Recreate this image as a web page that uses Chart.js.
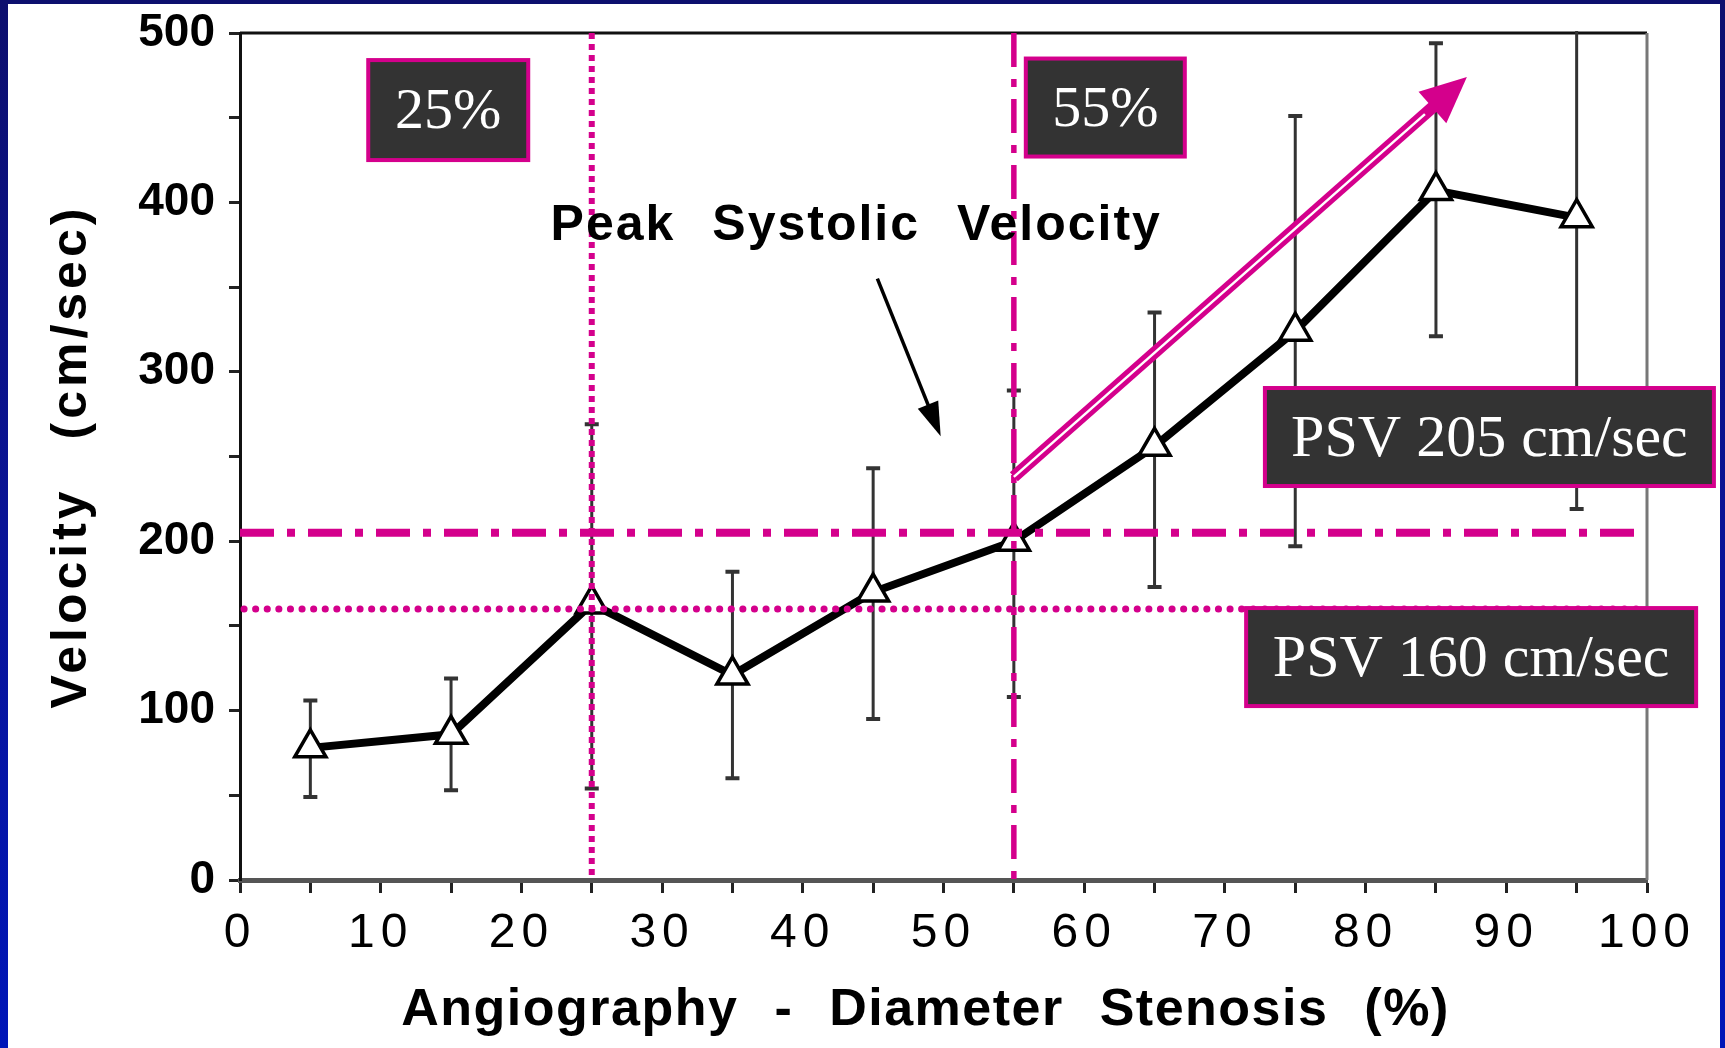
<!DOCTYPE html>
<html>
<head>
<meta charset="utf-8">
<script src="https://cdn.jsdelivr.net/npm/chart.js@4.4.1/dist/chart.umd.min.js"></script>
<style>
  html,body{margin:0;padding:0;width:1725px;height:1048px;overflow:hidden;
    background:linear-gradient(180deg,#0d0f6e 0%,#0a1496 50%,#0016b8 100%);}
  #wrap{position:absolute;left:8px;top:4px;width:1712px;height:1044px;background:#fff;}
  canvas{display:block;}
</style>
</head>
<body>
<div id="wrap"><canvas id="c" width="1712" height="1044" style="width:1712px;height:1044px"></canvas></div>
<script>
// ---- data ----
const stenosis = [5, 15, 25, 35, 45, 55, 65, 75, 85, 95];
const psvMean  = [78, 86, 163, 121, 170, 200, 256, 324, 407, 391];
const psvHigh  = [106, 119, 269, 182, 243, 289, 335, 451, 494, 530];
const psvLow   = [49, 53, 54, 60, 95, 108, 173, 197, 321, 219];
const xTickValues = [0, 10, 20, 30, 40, 50, 60, 70, 80, 90, 100];
const yTickValues = [0, 100, 200, 300, 400, 500];
const stenosisCutoffs = [25, 55];
const psvCutoffs = [205, 160];
const xTitle = 'Angiography - Diameter Stenosis (%)';
const yTitle = 'Velocity (cm/sec)';
const curveLabel = 'Peak Systolic Velocity';
const boxLabels = ['25%', '55%', 'PSV 205 cm/sec', 'PSV 160 cm/sec'];

// ---- annotation placement (in axis units) ----
const MAG = '#d4008c';
const SANS = '"Liberation Sans", Arial, Helvetica, sans-serif';
const SERIF = '"Liberation Serif", "Times New Roman", serif';
const boxPlace = [
  {x: 14.8, y: 454.5, w: 160, h: 100},
  {x: 61.5, y: 456, w: 159, h: 98},
  {x: 88.8, y: 261.5, w: 449, h: 98},
  {x: 87.5, y: 131.6, w: 450, h: 98}
];
const trendArrow = {x0: 55, y0: 238, x1: 87.2, y1: 474};
const pointerArrow = {x0: 45.3, y0: 355, x1: 49.8, y1: 262};
const curveLabelPos = {x: 43.8, y: 386};

function patch(scale, name, props, dx){
  const orig = scale[name].bind(scale);
  scale[name] = function(){
    const ctx = this.ctx; ctx.save();
    for (const k in props) ctx[k] = props[k];
    if (dx) ctx.translate(dx, 0);
    const r = orig.apply(null, arguments);
    ctx.restore(); return r;
  };
}

function arrowHead(ctx, x0, y0, x1, y1, len, half, color){
  const a = Math.atan2(y1 - y0, x1 - x0);
  ctx.beginPath();
  ctx.moveTo(x1, y1);
  ctx.lineTo(x1 - len*Math.cos(a) + half*Math.sin(a), y1 - len*Math.sin(a) - half*Math.cos(a));
  ctx.lineTo(x1 - len*Math.cos(a) - half*Math.sin(a), y1 - len*Math.sin(a) + half*Math.cos(a));
  ctx.closePath();
  ctx.fillStyle = color; ctx.fill();
}

const decor = {
  id: 'decor',
  beforeDraw(chart){
    if (!chart.$patched){
      chart.$patched = true;
      patch(chart.scales.x, 'drawLabels', {letterSpacing: '6px'});
      patch(chart.scales.x, 'drawTitle', {letterSpacing: '1.5px', wordSpacing: '20px'}, -18);
      patch(chart.scales.y, 'drawTitle', {letterSpacing: '4px', wordSpacing: '30px'});
    }
  },
  beforeDatasetsDraw(chart){
    const {ctx, chartArea: a, scales: {x, y}} = chart;
    // frame (top and right)
    ctx.save();
    ctx.strokeStyle = '#111'; ctx.lineWidth = 3;
    ctx.beginPath(); ctx.moveTo(a.left, a.top); ctx.lineTo(a.right, a.top); ctx.stroke();
    ctx.strokeStyle = '#777'; ctx.lineWidth = 3;
    ctx.beginPath(); ctx.moveTo(a.right, a.top); ctx.lineTo(a.right, a.bottom); ctx.stroke();
    // error bars
    ctx.beginPath(); ctx.rect(a.left, a.top - 2, a.right - a.left, a.bottom - a.top + 2); ctx.clip();
    ctx.strokeStyle = '#333'; ctx.lineWidth = 3;
    stenosis.forEach((sx, i) => {
      const px = x.getPixelForValue(sx);
      const yh = y.getPixelForValue(psvHigh[i]);
      const yl = y.getPixelForValue(psvLow[i]);
      ctx.beginPath();
      ctx.moveTo(px, yh); ctx.lineTo(px, yl);
      ctx.stroke();
      ctx.lineWidth = 4;
      ctx.beginPath();
      ctx.moveTo(px - 7, yh); ctx.lineTo(px + 7, yh);
      ctx.moveTo(px - 7, yl); ctx.lineTo(px + 7, yl);
      ctx.stroke();
      ctx.lineWidth = 3;
    });
    ctx.restore();
  },
  afterDatasetsDraw(chart){
    const {ctx, chartArea: a, scales: {x, y}} = chart;
    ctx.save();
    ctx.strokeStyle = MAG;
    // vertical cut-offs
    ctx.lineWidth = 6; ctx.setLineDash([6, 5]);
    let px = x.getPixelForValue(stenosisCutoffs[0]);
    ctx.beginPath(); ctx.moveTo(px, a.top); ctx.lineTo(px, a.bottom); ctx.stroke();
    ctx.lineWidth = 5.5; ctx.setLineDash([34, 12, 8, 12]);
    px = x.getPixelForValue(stenosisCutoffs[1]);
    ctx.beginPath(); ctx.moveTo(px, a.top); ctx.lineTo(px, a.bottom); ctx.stroke();
    // horizontal cut-offs
    ctx.lineWidth = 8; ctx.setLineDash([34, 13, 8, 13]);
    let py = y.getPixelForValue(psvCutoffs[0]);
    ctx.beginPath(); ctx.moveTo(a.left, py); ctx.lineTo(a.right, py); ctx.stroke();
    ctx.lineWidth = 7; ctx.lineCap = 'round'; ctx.setLineDash([0.1, 11.5]);
    py = y.getPixelForValue(psvCutoffs[1]);
    ctx.beginPath(); ctx.moveTo(a.left + 4, py); ctx.lineTo(a.right, py); ctx.stroke();
    ctx.setLineDash([]); ctx.lineCap = 'butt';

    // magenta double arrow
    const ax0 = x.getPixelForValue(trendArrow.x0), ay0 = y.getPixelForValue(trendArrow.y0);
    const ax1 = x.getPixelForValue(trendArrow.x1), ay1 = y.getPixelForValue(trendArrow.y1);
    const ang = Math.atan2(ay1 - ay0, ax1 - ax0);
    const bx = ax1 - 44*Math.cos(ang), by = ay1 - 44*Math.sin(ang);
    ctx.strokeStyle = MAG; ctx.lineWidth = 12;
    ctx.beginPath(); ctx.moveTo(ax0, ay0); ctx.lineTo(bx + 4*Math.cos(ang), by + 4*Math.sin(ang)); ctx.stroke();
    ctx.strokeStyle = '#fff'; ctx.lineWidth = 2.5;
    ctx.beginPath(); ctx.moveTo(ax0, ay0); ctx.lineTo(bx - 12*Math.cos(ang), by - 12*Math.sin(ang)); ctx.stroke();
    arrowHead(ctx, ax0, ay0, ax1, ay1, 46, 21, MAG);

    // black pointer arrow
    const p0x = x.getPixelForValue(pointerArrow.x0), p0y = y.getPixelForValue(pointerArrow.y0);
    const p1x = x.getPixelForValue(pointerArrow.x1), p1y = y.getPixelForValue(pointerArrow.y1);
    const pa = Math.atan2(p1y - p0y, p1x - p0x);
    ctx.strokeStyle = '#000'; ctx.lineWidth = 3.5;
    ctx.beginPath(); ctx.moveTo(p0x, p0y); ctx.lineTo(p1x - 20*Math.cos(pa), p1y - 20*Math.sin(pa)); ctx.stroke();
    arrowHead(ctx, p0x, p0y, p1x, p1y, 34, 11, '#000');

    // curve label
    ctx.fillStyle = '#000';
    ctx.font = 'bold 50px ' + SANS;
    ctx.letterSpacing = '2px'; ctx.wordSpacing = '21px';
    ctx.textAlign = 'center'; ctx.textBaseline = 'middle';
    ctx.fillText(curveLabel, x.getPixelForValue(curveLabelPos.x), y.getPixelForValue(curveLabelPos.y));
    ctx.letterSpacing = '0px'; ctx.wordSpacing = '0px';

    // labelled boxes
    boxLabels.forEach((t, i) => {
      const b = boxPlace[i];
      const cx = x.getPixelForValue(b.x), cy = y.getPixelForValue(b.y);
      ctx.fillStyle = '#333333';
      ctx.fillRect(cx - b.w/2, cy - b.h/2, b.w, b.h);
      ctx.strokeStyle = MAG; ctx.lineWidth = 4;
      ctx.strokeRect(cx - b.w/2, cy - b.h/2, b.w, b.h);
      ctx.fillStyle = '#fff';
      ctx.font = (i < 2 ? '58px ' : '60px ') + SERIF;
      ctx.textAlign = 'center'; ctx.textBaseline = 'middle';
      ctx.fillText(t, cx, cy + 3);
    });
    ctx.restore();
  }
};

new Chart(document.getElementById('c'), {
  type: 'line',
  data: {
    datasets: [{
      data: stenosis.map((s, i) => ({x: s, y: psvMean[i]})),
      borderColor: '#000', borderWidth: 8, tension: 0,
      pointStyle: 'triangle', pointRadius: 18, pointBorderWidth: 3.5,
      pointBackgroundColor: '#fff', pointBorderColor: '#000', clip: false
    }]
  },
  options: {
    responsive: false, animation: false,
    layout: {autoPadding: false, padding: {top: 29, right: 73, bottom: 0, left: 0}},
    plugins: {legend: {display: false}, tooltip: {enabled: false}},
    scales: {
      x: {
        type: 'linear', min: 0, max: 100,
        ticks: {stepSize: 5, autoSkip: false, maxRotation: 0, color: '#000', padding: 12,
          font: {family: SANS, size: 48},
          callback: v => xTickValues.includes(v) ? String(v) : ''},
        grid: {drawOnChartArea: false, drawTicks: true, tickLength: 13, tickWidth: 3, tickColor: '#222'},
        border: {color: '#555', width: 5},
        title: {display: true, text: xTitle, color: '#000',
          font: {family: SANS, size: 52, weight: 'bold'}, padding: {top: 0, bottom: 6}},
        afterFit: s => { s.height = 168; }
      },
      y: {
        type: 'linear', min: 0, max: 500,
        ticks: {stepSize: 50, autoSkip: false, color: '#000', padding: 14,
          font: {family: SANS, size: 46, weight: 'bold'},
          callback: v => yTickValues.includes(v) ? String(v) : ''},
        grid: {drawOnChartArea: false, drawTicks: true, tickLength: 11, tickWidth: 3, tickColor: '#222'},
        border: {color: '#111', width: 3},
        title: {display: true, text: yTitle, color: '#000',
          font: {family: SANS, size: 50, weight: 'bold'}, padding: {top: 34, bottom: 0}},
        afterFit: s => { s.width = 232; s.paddingTop = 0; s.paddingBottom = 0; }
      }
    }
  },
  plugins: [decor]
});
</script>
</body>
</html>
